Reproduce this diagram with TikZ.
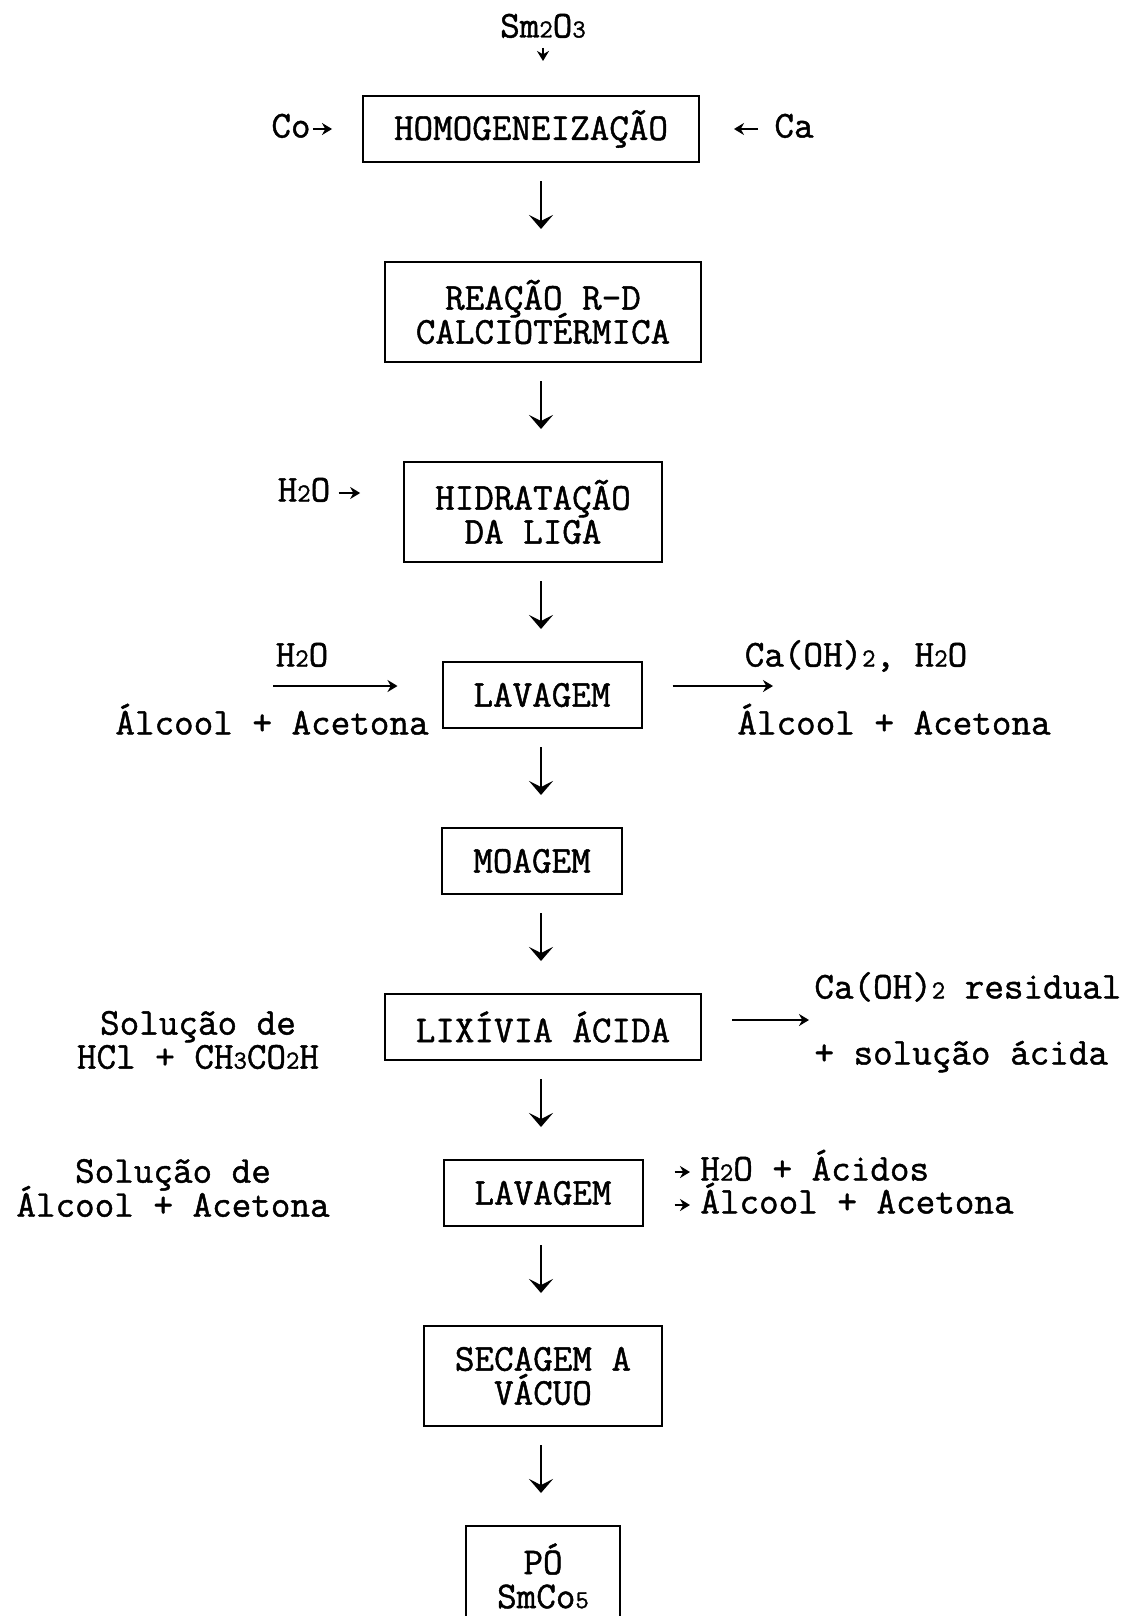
\documentclass[tikz,border=0pt]{standalone}
\usepackage{fontspec}
\setmonofont{Latin Modern Mono}[FakeBold=1.2]
\usetikzlibrary{positioning,arrows.meta}
\newcommand\ix[1]{{\fontsize{13}{13}\selectfont #1}}
\tikzset{
  stage/.style={draw,line width=1pt,inner xsep=15.5pt,minimum height=33pt,align=center},
  tall/.style={minimum height=50pt},
  lbl/.style={inner sep=0pt,text height=12pt,text depth=3.5pt},
  twoline/.style={inner sep=0pt,align=center},
  flow/.style={line width=1.4pt,-{Stealth[length=7pt,width=12pt,inset=3pt]},shorten <=9pt,shorten >=16pt},
  feed/.style={line width=0.9pt,-{Stealth[length=5pt,width=6pt]}}
}

\begin{document}
\begin{tikzpicture}[x=0.5pt,y=-0.5pt,
    every node/.style={font=\ttfamily\fontsize{19}{17}\selectfont,execute at begin node={\lineskiplimit=-20pt}}]
  \useasboundingbox (0,0) rectangle (1136,1616);
  \coordinate (axis) at (541,0);

  % process boxes
  \node[stage] (homo) at (531,129) {HOMOGENEIZAÇÃO};
  \node[stage,tall] (reacao) [below=49pt of homo,xshift=6pt] {REAÇÃO R-D\\CALCIOTÉRMICA};
  \node[stage,tall] (hidra) [below=49pt of reacao,xshift=-5pt] {HIDRATAÇÃO\\DA LIGA};
  \node[stage] (lav1) [below=49pt of hidra,xshift=4.5pt] {LAVAGEM};
  \node[stage] (moagem) [below=49pt of lav1,xshift=-5pt] {MOAGEM};
  \node[stage] (lixivia) [below=49pt of moagem,xshift=5.5pt] {LIXÍVIA ÁCIDA};
  \node[stage] (lav2) [below=49pt of lixivia] {LAVAGEM};
  \node[stage,tall] (secagem) [below=49pt of lav2] {SECAGEM A\\VÁCUO};
  \node[stage,tall] (po) [below=49pt of secagem] {PÓ\\SmCo\ix5};

  % side labels
  \node[lbl] (sm) at (543,29) {Sm\ix2O\ix3};
  \node[lbl] (co) at (291,129) {Co};
  \node[lbl] (ca) at (794,129) {Ca};
  \node[lbl] (aguaA) at (304,493) {H\ix2O};
  \node[lbl] (aguaB) at (302,658) {H\ix2O};
  \node[lbl] (alcA) at (272,726) {Álcool + Acetona};
  \node[lbl] (hidrox) at (856,658) {Ca(OH)\ix2, H\ix2O};
  \node[lbl] (alcB) at (894,726) {Álcool + Acetona};
  \node[twoline] (solHCl) at (198,1040) {Solução de\\HCl + CH\ix3CO\ix2H};
  \node[lbl,anchor=west] (resid) at (814,990) {Ca(OH)\ix2 residual};
  \node[lbl,anchor=west] (solAc) at (814,1056) {+ solução ácida};
  \node[twoline] (solAlc) at (173,1188) {Solução de\\Álcool + Acetona};
  \node[lbl,anchor=west] (acidos) at (700,1172) {H\ix2O + Ácidos};
  \node[lbl,anchor=west] (alcC) at (700,1205) {Álcool + Acetona};

  \coordinate (inA) at (273,686);
  \coordinate (outA) at (773,686);
  \coordinate (outB) at (809,1020);

  % main flow
  \path[flow]
        (homo.south -| axis) edge (reacao.north -| axis)
        (reacao.south -| axis) edge (hidra.north -| axis)
        (hidra.south -| axis) edge (lav1.north -| axis)
        (lav1.south -| axis) edge (moagem.north -| axis)
        (moagem.south -| axis) edge (lixivia.north -| axis)
        (lixivia.south -| axis) edge (lav2.north -| axis)
        (lav2.south -| axis) edge (secagem.north -| axis)
        (secagem.south -| axis) edge (po.north -| axis);

  % inputs and outputs
  \draw[feed,shorten <=1.5pt,shorten >=17pt] (sm) -- (sm.south |- homo.north);
  \draw[feed,shorten <=1pt,shorten >=15pt] (co) -- (homo);
  \draw[feed,shorten <=8pt,shorten >=17pt] (ca) -- (homo);
  \draw[feed,shorten <=4pt,shorten >=21.5pt] (aguaA) -- (hidra.west |- aguaA);
  \draw[feed,shorten >=22pt] (inA) -- (lav1.west |- inA);
  \draw[feed,shorten <=15pt] (lav1.east |- outA) -- (outA);
  \draw[feed,shorten <=15pt] (lixivia.east |- outB) -- (outB);
  \draw[feed,shorten <=15.5pt,shorten >=5pt] (lav2.east |- acidos.west) -- (acidos.west);
  \draw[feed,shorten <=15.5pt,shorten >=5pt] (lav2.east |- alcC.west) -- (alcC.west);
\end{tikzpicture}
\end{document}
